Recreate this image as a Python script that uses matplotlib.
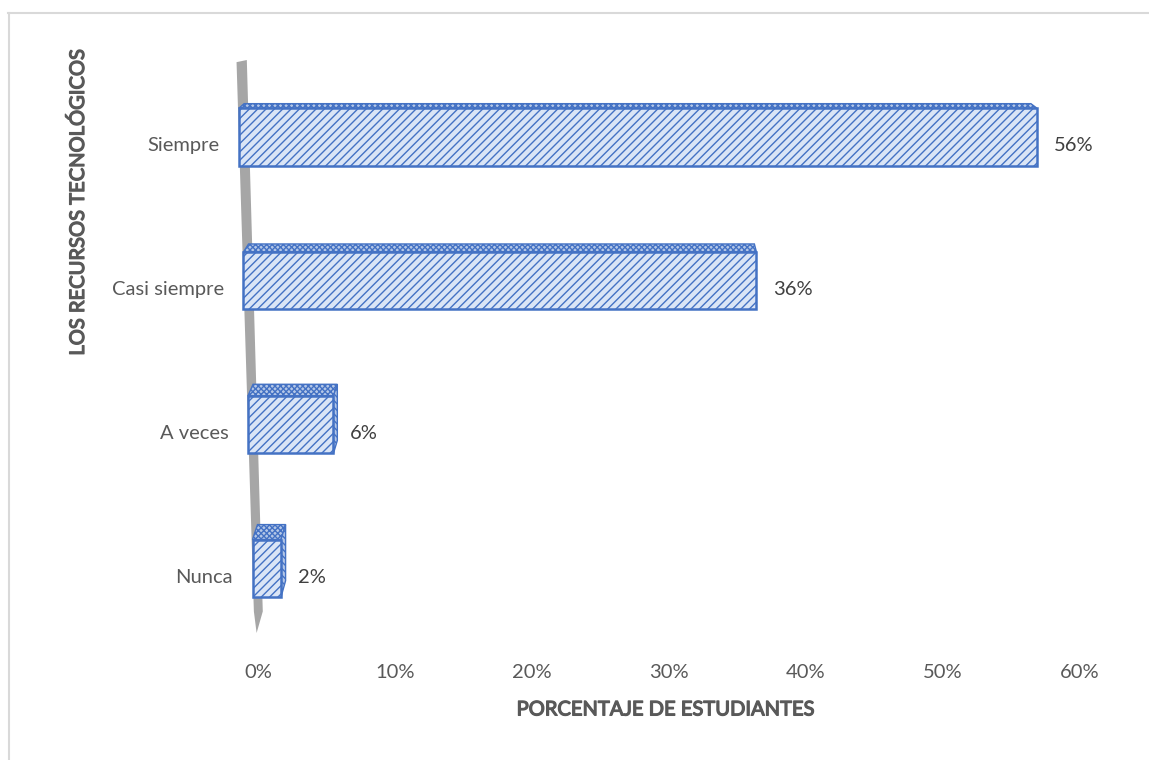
"""
Bar chart (Excel style 3D) - frequency of use of technological resources.
"""
import matplotlib
matplotlib.use('Agg')
import matplotlib.pyplot as plt
import matplotlib.patheffects as pe
from matplotlib.patches import Polygon
from matplotlib.lines import Line2D

categories = ['Nunca', 'A veces', 'Casi siempre', 'Siempre']
values = [2, 6, 36, 56]
value_labels = ['2%', '6%', '36%', '56%']
x_ticks = [0, 10, 20, 30, 40, 50, 60]
x_tick_labels = ['0%', '10%', '20%', '30%', '40%', '50%', '60%']

BLUE = '#4472c4'
FACE = '#dae5f6'
GREY_TXT = '#595959'

plt.rcParams['font.family'] = ['Lato', 'DejaVu Sans']
plt.rcParams['hatch.linewidth'] = 1.0

# Bold face of Lato does not come out, so thicken the strokes instead.
bold_fx = [pe.withStroke(linewidth=0.9, foreground=GREY_TXT)]

fig = plt.figure(figsize=(11.49, 7.6), dpi=100)
ax = fig.add_axes([230.6 / 1149, 127 / 760, 870 / 1149, 573 / 760])
ax.set_xlim(-2, 61.5)
ax.set_ylim(-0.45, 3.535)


# Perspective helpers (fake 3D look of the original chart).
def skew(y):
    return -0.40 - 0.33 * y


def depth(x, y):
    return 0.357 - 0.014 * x, 0.1088 - 0.0242 * y


stretch = 1.04
bar_h = 0.40

# Grey wall of the category axis.
wall = [(skew(3.535), 3.52), (skew(3.535) + 0.75, 3.535),
        (skew(-0.30) + 0.65, -0.30), (skew(-0.45) + 0.15, -0.45),
        (skew(-0.30), -0.30)]
ax.add_patch(Polygon(wall, closed=True, facecolor='#a6a6a6', edgecolor='none', zorder=1))

for i, (cat, val, lab) in enumerate(zip(categories, values, value_labels)):
    y = i
    x0 = skew(y)
    x1 = x0 + val * stretch
    yb, yt = y - bar_h / 2, y + bar_h / 2

    dxl, dyl = depth(x0, yt)
    dxr, dyr = depth(x1, yt)
    top = [(x0, yt), (x1, yt), (x1 + dxr, yt + dyr), (x0 + dxl, yt + dyl)]
    ax.add_patch(Polygon(top, closed=True, facecolor='#b4c7e7', edgecolor=BLUE,
                         hatch='xxxxxx', linewidth=1.0, zorder=3))
    if dxr > 0:
        dxb, dyb = depth(x1, yb)
        side = [(x1, yt), (x1, yb), (x1 + dxb, yb + dyb), (x1 + dxr, yt + dyr)]
        ax.add_patch(Polygon(side, closed=True, facecolor='#b4c7e7', edgecolor=BLUE,
                             hatch='\\\\\\\\\\', linewidth=1.0, zorder=3))
    ax.barh(y, val * stretch, left=x0, height=bar_h, color=FACE, edgecolor=BLUE,
            hatch='////', linewidth=1.8, zorder=4)

    ax.annotate(lab, (x1, y), xytext=(12, -6.5), textcoords='offset points',
                ha='left', va='center', fontsize=14.5, color='#404040')
    ax.annotate(cat, (x0, y), xytext=(-14, -6.5), textcoords='offset points',
                ha='right', va='center', fontsize=14.5, color=GREY_TXT)

ax.set_xticks(x_ticks)
ax.set_xticklabels(x_tick_labels, fontsize=14.5, color=GREY_TXT)
ax.tick_params(axis='x', length=0, pad=22)
ax.set_yticks([])
for s in ax.spines.values():
    s.set_visible(False)

ax.set_xlabel('PORCENTAJE DE ESTUDIANTES', fontsize=14.5, color=GREY_TXT,
              labelpad=15, path_effects=bold_fx)
fig.text(78 / 1149, 1 - 202 / 760, 'LOS RECURSOS TECNOLÓGICOS', rotation=90,
         ha='center', va='center', fontsize=14.5, color=GREY_TXT, path_effects=bold_fx)

# Chart area border (only top and left edges are visible in the crop).
fig.add_artist(Line2D([8 / 1149, 1], [1 - 12.5 / 760] * 2, color='#d9d9d9', lw=1.5))
fig.add_artist(Line2D([8.5 / 1149] * 2, [0, 1 - 12.5 / 760], color='#d9d9d9', lw=1.5))

fig.savefig('out.png', dpi=100)
